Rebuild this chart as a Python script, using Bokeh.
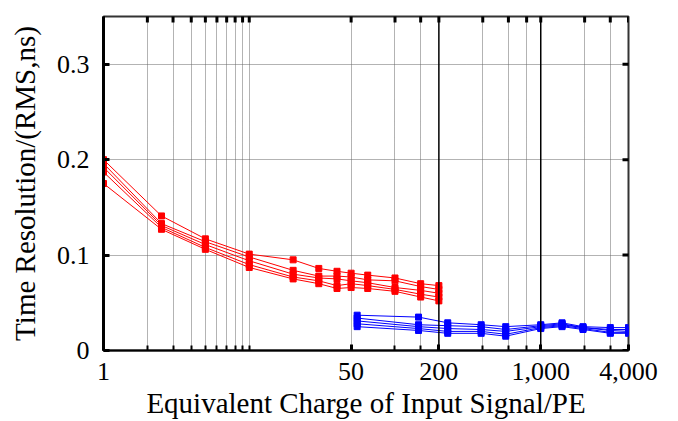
import math
from bokeh.plotting import figure
from bokeh.models import FixedTicker, Span, NumeralTickFormatter, Range1d
from bokeh.embed import file_html
from bokeh.resources import INLINE

# ---- data ----
red_x = [1, 2.5, 5, 10, 20, 30, 40, 50, 65, 100, 150, 200]
red_1 = [0.200, 0.141, 0.117, 0.101, 0.095, 0.086, 0.083, 0.081, 0.079, 0.076, 0.070, 0.068]
red_2 = [0.196, 0.133, 0.114, 0.098, 0.084, 0.078, 0.078, 0.077, 0.074, 0.073, 0.067, 0.064]
red_3 = [0.192, 0.131, 0.111, 0.094, 0.080, 0.076, 0.075, 0.073, 0.071, 0.066, 0.063, 0.060]
red_4 = [0.187, 0.129, 0.108, 0.090, 0.077, 0.073, 0.068, 0.070, 0.068, 0.064, 0.059, 0.056]
red_5 = [0.175, 0.127, 0.106, 0.087, 0.075, 0.070, 0.065, 0.066, 0.065, 0.062, 0.056, 0.052]

blue_x = [55, 145, 230, 390, 575, 1000, 1400, 1950, 3000, 4000]
blue_1 = [0.037, 0.035, 0.029, 0.027, 0.025, 0.027, 0.029, 0.025, 0.024, 0.024]
blue_2 = [0.034, 0.027, 0.026, 0.025, 0.022, 0.026, 0.028, 0.024, 0.022, 0.022]
blue_3 = [0.031, 0.025, 0.023, 0.022, 0.020, 0.025, 0.027, 0.024, 0.021, 0.020]
blue_4 = [0.028, 0.023, 0.020, 0.020, 0.017, 0.024, 0.026, 0.023, 0.019, 0.019]
blue_5 = [0.025, 0.021, 0.018, 0.018, 0.015, 0.023, 0.025, 0.022, 0.018, 0.018]

x_tick_values = [1, 50, 200, 1000, 4000]
x_minor_values = [2, 3, 4, 5, 6, 7, 8, 9, 10, 100, 150, 400, 600, 800, 2000, 3000]
x_grid_values = [2, 3, 4, 5, 6, 7, 8, 9, 10, 50, 100, 150, 400, 600, 800, 2000, 3000]
x_black_lines = [200, 1000]
y_tick_values = [0, 0.1, 0.2, 0.3]
y_grid_values = [0.1, 0.2, 0.3]

X_MIN, X_MAX = 1, 4000
Y_MIN, Y_MAX = 0, 0.35

FONT = "Liberation Serif"

p = figure(width=673, height=421, x_axis_type="log",
           x_range=Range1d(X_MIN, X_MAX), y_range=Range1d(Y_MIN, Y_MAX),
           output_backend="svg", toolbar_location=None,
           min_border_left=103, min_border_right=45,
           min_border_top=16, min_border_bottom=70)
p.background_fill_color = "white"
p.border_fill_color = "white"
p.outline_line_color = "#333333"
p.outline_line_width = 2

# grids
p.xgrid.ticker = FixedTicker(ticks=x_grid_values)
p.xgrid.grid_line_color = "#666666"
p.xgrid.grid_line_dash = "1 1"
p.xgrid.grid_line_width = 1
p.ygrid.ticker = FixedTicker(ticks=y_grid_values)
p.ygrid.grid_line_color = "#666666"
p.ygrid.grid_line_dash = "1 1"
p.ygrid.grid_line_width = 1

for xv in x_black_lines:
    p.add_layout(Span(location=xv, dimension="height", line_color="black", line_width=1.5))

# x axis
xa = p.xaxis[0]
xa.ticker = FixedTicker(ticks=x_tick_values, minor_ticks=x_minor_values)
xa.formatter = NumeralTickFormatter(format="0,0")
xa.axis_label = "Equivalent Charge of Input Signal/PE"
xa.axis_label_text_font = FONT
xa.axis_label_text_font_size = "29px"
xa.axis_label_text_font_style = "normal"
xa.axis_label_text_color = "black"
xa.axis_label_standoff = 4
xa.major_label_text_font = FONT
xa.major_label_text_font_size = "26px"
xa.major_label_text_color = "black"
xa.major_label_standoff = 12
xa.axis_line_color = "black"
xa.axis_line_width = 2
xa.major_tick_in = 6
xa.major_tick_out = 0
xa.minor_tick_in = 5
xa.minor_tick_out = 0
xa.major_tick_line_width = 3
xa.minor_tick_line_width = 2
xa.major_tick_line_color = "black"
xa.minor_tick_line_color = "black"

# y axis
ya = p.yaxis[0]
ya.ticker = FixedTicker(ticks=y_tick_values)
ya.major_label_overrides = {0: "0"}
ya.axis_label = "Time Resolution/(RMS,ns)"
ya.axis_label_text_font = FONT
ya.axis_label_text_font_size = "29px"
ya.axis_label_text_font_style = "normal"
ya.axis_label_text_color = "black"
ya.axis_label_standoff = 13
ya.major_label_text_font = FONT
ya.major_label_text_font_size = "26px"
ya.major_label_text_color = "black"
ya.major_label_standoff = 14
ya.axis_line_color = "black"
ya.axis_line_width = 3
ya.major_tick_in = 6
ya.major_tick_out = 0
ya.minor_tick_line_color = None
ya.major_tick_line_width = 3
ya.major_tick_line_color = "black"

# top and right tick marks (dash markers clipped at the frame edge -> inward ticks)
top_ticks = x_tick_values + x_minor_values
p.scatter(top_ticks, [Y_MAX] * len(top_ticks), marker="dash", size=12,
          angle=math.pi / 2, line_color="black", line_width=3)
p.scatter([X_MAX] * len(y_tick_values), y_tick_values, marker="dash", size=12,
          line_color="black", line_width=3)

red_series = [red_1, red_2, red_3, red_4, red_5]
blue_series = [blue_1, blue_2, blue_3, blue_4, blue_5]
for ys in red_series:
    p.line(red_x, ys, line_color="#ff0000", line_width=1)
    p.scatter(red_x, ys, marker="square", size=6, fill_color="#ff0000", line_color="#ff0000")
for ys in blue_series:
    p.line(blue_x, ys, line_color="#0000ff", line_width=1)
    p.scatter(blue_x, ys, marker="square", size=6, fill_color="#0000ff", line_color="#0000ff")

open("out.html", "w").write(file_html(p, INLINE))
